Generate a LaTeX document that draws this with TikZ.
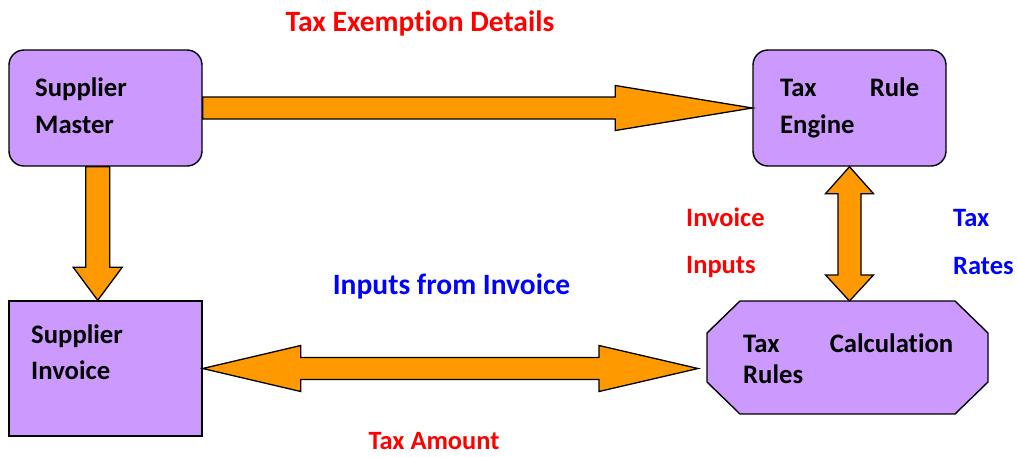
\documentclass[tikz,border=0pt]{standalone}
\usepackage{fontspec}
\setmainfont[Ligatures=NoCommon]{Carlito}
\usetikzlibrary{calc}
\definecolor{boxpurple}{HTML}{CC99FF}
\definecolor{arrorange}{HTML}{FF9900}
\definecolor{lblred}{HTML}{FF0000}
\definecolor{lblblue}{HTML}{0000FF}
\newcommand\twoln[3]{\vtop{\baselineskip=#1pt\hbox{#2}\hbox{#3}}}
\begin{document}
\begin{tikzpicture}[x=1pt,y=-1pt,
  boxshape/.style={draw=black, fill=boxpurple, line width=1.4pt, inner sep=0pt},
  rbox/.style={boxshape, rounded corners=15pt},
  ghost/.style={inner sep=0pt, outer sep=0pt},
  arr/.style={draw=black, fill=arrorange, line width=1.3pt, line join=miter},
  boxtxt/.style={inner sep=0pt, anchor=base west, font=\fontsize{26.7}{37}\selectfont\bfseries},
  lbl/.style={inner sep=0pt, anchor=base, font=\fontsize{29.5}{34}\selectfont\bfseries},
  sidelbl/.style={inner sep=0pt, anchor=base west, font=\fontsize{26.5}{34}\selectfont\bfseries}
]
\path[use as bounding box] (0,0) rectangle (1018,456);

% boxes
\node[rbox, minimum width=193pt, minimum height=116pt] (sm) at (105.5,108) {};
\node[rbox, minimum width=193pt, minimum height=116pt] (tre) at (849.5,108) {};
\node[boxshape, minimum width=193pt, minimum height=135pt] (si) at (105.5,368.5) {};
\node[ghost, minimum width=281pt, minimum height=113pt] (tcr) at (847.5,357.5) {};
\filldraw[boxshape]
  ($(tcr.north west)+(33,0)$) -- ($(tcr.north east)+(-33,0)$) -- ($(tcr.north east)+(0,32)$)
  -- ($(tcr.south east)+(0,-32)$) -- ($(tcr.south east)+(-33,0)$) -- ($(tcr.south west)+(33,0)$)
  -- ($(tcr.south west)+(0,-32)$) -- ($(tcr.north west)+(0,32)$) -- cycle;

% top arrow: Supplier Master -> Tax Rule Engine
\coordinate (A) at (sm.east);
\coordinate (B) at (tre.west);
\filldraw[arr] ($(A)+(0,-11)$) -- ($(B)+(-137,-11)$) -- ($(B)+(-137,-22.5)$) -- (B)
  -- ($(B)+(-137,22.5)$) -- ($(B)+(-137,11)$) -- ($(A)+(0,11)$) -- cycle;

% down arrow: Supplier Master -> Supplier Invoice
\coordinate (a1) at ($(sm.south west)!0.46!(sm.south east)$);
\coordinate (a2) at (a1 |- si.north);
\filldraw[arr] ($(a1)+(-12,0)$) -- ($(a2)+(-12,-33)$) -- ($(a2)+(-24.5,-33)$) -- (a2)
  -- ($(a2)+(24.5,-33)$) -- ($(a2)+(12,-33)$) -- ($(a1)+(12,0)$) -- cycle;

% vertical double arrow: Tax Rule Engine <-> Tax Calculation Rules
\coordinate (v1) at (tre.south);
\coordinate (v2) at (tre.south |- tcr.north);
\filldraw[arr] (v1) -- ($(v1)+(24,27)$) -- ($(v1)+(11.5,27)$) -- ($(v2)+(11.5,-26)$)
  -- ($(v2)+(24,-26)$) -- (v2) -- ($(v2)+(-24,-26)$) -- ($(v2)+(-11.5,-26)$)
  -- ($(v1)+(-11.5,27)$) -- ($(v1)+(-24,27)$) -- cycle;

% horizontal double arrow: Supplier Invoice <-> Tax Calculation Rules
\coordinate (h1) at (si.east);
\coordinate (h2) at ($(h1 -| tcr.west)+(-9,0)$);
\filldraw[arr] (h1) -- ($(h1)+(98,-23)$) -- ($(h1)+(98,-11)$) -- ($(h2)+(-99,-11)$)
  -- ($(h2)+(-99,-23)$) -- (h2) -- ($(h2)+(-99,23)$) -- ($(h2)+(-99,11)$)
  -- ($(h1)+(98,11)$) -- ($(h1)+(98,23)$) -- cycle;

% box texts
\node[boxtxt] (smt) at (35,96.5) {\twoln{37}{Supplier}{Master}};
\node[boxtxt] (tret) at (780,96.5) {\twoln{37}{\hbox to 139pt{Tax\hfill Rule}}{Engine}};
\node[boxtxt] (sit) at (31,343.5) {\twoln{36}{Supplier}{Invoice}};
\node[boxtxt] (tcrt) at (743,352.5) {\twoln{31}{\hbox to 210pt{Tax\hfill Calculation}}{Rules}};

% labels
\node[lbl, text=lblred] (l1) at (420,31) {Tax Exemption Details};
\node[lbl, text=lblblue] (l2) at (451.5,294) {Inputs from Invoice};
\node[lbl, text=lblred, font=\fontsize{26.4}{32}\selectfont\bfseries] (l3) at (434,449) {Tax Amount};
\node[sidelbl, text=lblred] (l4) at (686,226.5) {\twoln{47}{Invoice}{Inputs}};
\node[sidelbl, text=lblblue] (l5) at (953,226.5) {\twoln{48}{Tax}{Rates}};
\end{tikzpicture}
\end{document}
